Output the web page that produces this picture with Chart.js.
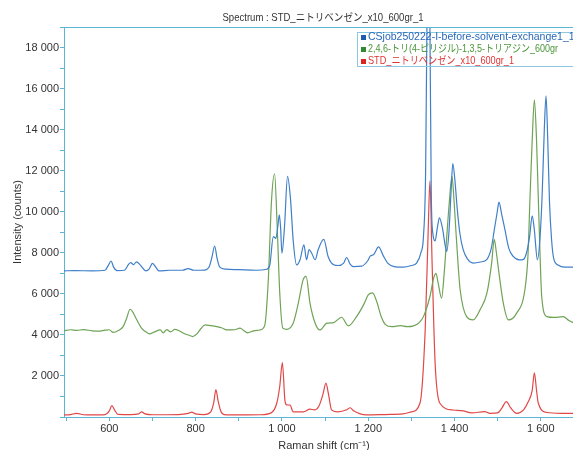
<!DOCTYPE html>
<html>
<head>
<meta charset="utf-8">
<title>Spectrum</title>
<script src="https://cdn.jsdelivr.net/npm/chart.js"></script>
<style>
  html, body { margin: 0; padding: 0; background: #fff; overflow: hidden; }
  #wrap { width: 590px; height: 450px; }
</style>
</head>
<body>
<div id="wrap"><canvas id="myChart" width="590" height="450"></canvas></div>
<script>
// --- data ---
const chartTitle = 'Spectrum : STD_ニトリベンゼン_x10_600gr_1';
const seriesNames = [
  'CSjob250222-I-before-solvent-exchange1_1',
  '2,4,6-トリ(4-ピリジル)-1,3,5-トリアジン_600gr',
  'STD_ニトリベンゼン_x10_600gr_1'
];

const xTicks = [500, 600, 700, 800, 900, 1000, 1100, 1200, 1300, 1400, 1500, 1600, 1700];
const xLabelled = [600, 800, 1000, 1200, 1400, 1600];
const yLabelled = [2000, 4000, 6000, 8000, 10000, 12000, 14000, 16000, 18000];

const blueX = [495, 520, 560, 590, 598, 604, 610, 618, 635, 645, 650, 656, 663, 672, 685, 692, 700, 706, 715, 740, 770, 783, 795, 820, 832, 838, 844, 850, 856, 870, 900, 940,
  965, 972, 980, 986, 990, 994, 997, 1000, 1006, 1013, 1020, 1026, 1034, 1042, 1051, 1057, 1063, 1069, 1077, 1084, 1097, 1107, 1115, 1130, 1143, 1150, 1158, 1166, 1185,
  1200, 1205, 1212, 1224, 1235, 1245, 1260, 1280, 1300, 1312, 1322, 1328, 1333, 1336, 1339.5, 1343, 1346, 1350, 1355, 1360, 1365, 1372, 1378, 1382, 1387, 1392, 1396,
  1401, 1406, 1412, 1420, 1430, 1443, 1460, 1475, 1485, 1492, 1499, 1503, 1509, 1517, 1526, 1536, 1550, 1560, 1568, 1574, 1580, 1585, 1592, 1598, 1603, 1608, 1612,
  1616, 1620, 1625, 1630, 1640, 1655, 1675, 1700];
const blueY = [7120, 7130, 7120, 7150, 7400, 7600, 7300, 7130, 7150, 7450, 7520, 7420, 7560, 7400, 7120, 7200, 7480, 7350, 7120, 7150, 7150, 7230, 7150, 7160, 7350, 7800, 8330, 7700, 7300, 7200, 7180, 7150,
  7200, 7410, 8790, 8700, 9200, 9850, 9200, 7980, 9280, 11720, 10590, 8630, 7410, 7660, 8390, 7660, 8150, 7980, 7660, 8150, 8650, 7820, 7500, 7380, 7500, 7770, 7450, 7330, 7350,
  7650, 7850, 7900, 8290, 7850, 7500, 7330, 7300, 7380, 7500, 8000, 8800, 12000, 19000, 24000, 19000, 11000, 8900, 8580, 9200, 9700, 9200, 8400, 8070, 9000, 11000, 12350,
  11500, 10200, 9000, 8150, 7700, 7500, 7550, 7680, 8200, 9100, 10000, 10470, 9900, 9100, 8200, 7820, 7650, 7680, 8100, 8800, 9800, 9100, 7660, 8700, 10800, 14000, 15650,
  13500, 10500, 8600, 7700, 7400, 7300, 7300, 7320];

const greenX = [495, 510, 525, 540, 560, 575, 590, 600, 609, 620, 632, 640, 648, 655, 662, 675, 685, 693, 705, 718, 725, 733, 742, 752, 762, 772, 785, 793, 803, 812, 822, 835,
  849, 860, 872, 890, 903, 912, 920, 935, 949, 960, 968, 976, 983, 989, 995, 1002, 1011, 1026, 1038, 1049, 1056, 1065, 1077, 1088, 1104, 1120, 1138, 1154, 1173, 1190,
  1200, 1210, 1220, 1230, 1240, 1255, 1275, 1290, 1305, 1318, 1328, 1343, 1352, 1357, 1362, 1370, 1376, 1382, 1388, 1394, 1399, 1403, 1408, 1413, 1428, 1443, 1459,
  1475, 1486, 1492, 1497, 1502, 1513, 1525, 1544, 1563, 1570, 1575, 1580, 1585, 1590, 1594, 1598, 1602, 1614, 1630, 1652, 1665, 1680, 1700];
const greenY = [4200, 4250, 4220, 4260, 4200, 4180, 4230, 4250, 4120, 4200, 4400, 4800, 5250, 5100, 4800, 4320, 4150, 4050, 4150, 4240, 4100, 4260, 4150, 4270, 4200, 4080, 3980, 3920, 4050, 4300, 4490, 4450,
  4400, 4350, 4240, 4250, 4330, 4200, 4100, 4200, 4240, 4450, 6500, 10590, 11850, 9280, 6030, 4330, 4270, 4570, 5550, 6680, 6850, 5550, 4570, 4240, 4570, 4600, 4860, 4440, 4890, 5500,
  5950, 6050, 5600, 4900, 4500, 4400, 4450, 4400, 4440, 4600, 4890, 5870, 6800, 7000, 6530, 5790, 7000, 8800, 10500, 11720, 10500, 9120, 7500, 6200, 4890, 4730, 5220,
  6030, 7500, 8650, 8000, 7170, 5550, 4730, 5060, 6200, 7800, 10750, 13500, 15450, 13500, 10750, 8000, 5870, 4890, 4850, 4890, 4700, 4570, 4550];

const redX = [495, 510, 524, 540, 560, 590, 600, 606, 612, 620, 650, 668, 675, 683, 700, 760, 783, 791, 800, 820, 835, 842, 847, 852, 858, 866, 900, 950, 975, 988, 995,
  1001, 1007, 1011, 1019, 1026, 1050, 1065, 1075, 1085, 1095, 1102, 1108, 1115, 1130, 1150, 1158, 1166, 1196, 1240, 1280, 1300, 1320, 1332, 1339, 1343, 1348, 1355,
  1366, 1397, 1420, 1440, 1470, 1482, 1500, 1510, 1520, 1530, 1544, 1560, 1571, 1580, 1585, 1590, 1594, 1614, 1650, 1700];
const redY = [100, 120, 180, 110, 100, 120, 300, 550, 350, 130, 120, 150, 250, 150, 110, 120, 180, 240, 150, 120, 250, 700, 1330, 800, 300, 120, 100, 110, 200, 670, 1500,
  2650, 800, 590, 580, 250, 250, 380, 350, 500, 1100, 1650, 1100, 350, 250, 350, 450, 300, 100, 120, 150, 250, 680, 4240, 9120, 11500, 7500, 2620,
  670, 340, 300, 200, 260, 180, 200, 450, 750, 450, 180, 350, 750, 1300, 2150, 1300, 680, 220, 180, 170];

const lineColors = ['#3f7fc8', '#6ea356', '#e04848'];
const legendMarks = ['#1f5cb0', '#2f8a2f', '#e02222'];
const legendText = ['#2a68b8', '#4a963a', '#e03434'];
const legendFit = [null, 190, 146];   // the source font sets the Japanese rows narrower

const xMin = 495, xMax = 1700, yMin = 0, yMax = 19000;
const axisColor = '#5cb4d6';
const fontFam = '"Liberation Sans", Arial, "Noto Sans CJK JP", sans-serif';

function pairs(xs, ys) {
  return xs.map((x, i) => ({ x: x, y: ys[i] }));
}
function spaced(v) {
  return String(v).replace(/\B(?=(\d{3})+(?!\d))/g, ' ');
}

// title, top frame line and in-plot legend
const decor = {
  id: 'decor',
  afterDraw(chart) {
    const { ctx, chartArea: a } = chart;
    ctx.save();
    ctx.strokeStyle = axisColor;
    ctx.lineWidth = 1;
    ctx.beginPath();
    ctx.moveTo(a.left, a.top + 0.5);
    ctx.lineTo(a.right, a.top + 0.5);
    ctx.lineTo(a.right, a.bottom);
    ctx.stroke();

    ctx.font = '10.5px ' + fontFam;
    ctx.fillStyle = '#333';
    ctx.textAlign = 'center';
    ctx.textBaseline = 'middle';
    ctx.fillText(chartTitle, (a.left + a.right) / 2 - 1, 18, 201);

    // legend box
    const lx = 357, ly = 32;
    ctx.strokeStyle = '#8cc8e0';
    ctx.strokeRect(lx + 0.5, ly + 0.5, 300, 34);
    ctx.textAlign = 'left';
    ctx.font = '10.5px ' + fontFam;
    seriesNames.forEach((name, i) => {
      const cy = ly + 5.5 + i * 12;
      ctx.fillStyle = legendMarks[i];
      ctx.fillRect(lx + 4, cy - 2.5, 5, 5);
      ctx.fillStyle = legendText[i];
      if (legendFit[i]) ctx.fillText(name, lx + 11, cy, legendFit[i]);
      else ctx.fillText(name, lx + 11, cy);
    });
    ctx.restore();
  }
};

const ctx = document.getElementById('myChart').getContext('2d');
new Chart(ctx, {
  type: 'line',
  data: {
    datasets: [
      { label: seriesNames[0], data: pairs(blueX, blueY), borderColor: lineColors[0] },
      { label: seriesNames[1], data: pairs(greenX, greenY), borderColor: lineColors[1] },
      { label: seriesNames[2], data: pairs(redX, redY), borderColor: lineColors[2] }
    ]
  },
  options: {
    responsive: false,
    animation: false,
    devicePixelRatio: 1,
    layout: { padding: { top: 27, left: 0, right: 6, bottom: 0 } },
    elements: {
      point: { radius: 0 },
      line: { borderWidth: 1.2, cubicInterpolationMode: 'monotone', fill: false }
    },
    plugins: {
      legend: { display: false },
      tooltip: { enabled: false },
      title: { display: false }
    },
    scales: {
      x: {
        type: 'linear',
        min: xMin, max: xMax,
        afterBuildTicks: s => { s.ticks = xTicks.map(v => ({ value: v })); },
        afterFit: s => { s.height = 33; },
        border: { color: axisColor, width: 1 },
        grid: { drawOnChartArea: false, tickLength: 4, tickColor: axisColor },
        ticks: {
          autoSkip: false, maxRotation: 0, padding: 1,
          color: '#333', font: { family: fontFam, size: 11 },
          callback: v => (xLabelled.includes(v) ? spaced(v) : '')
        },
        title: {
          display: true, text: 'Raman shift (cm⁻¹)', color: '#333',
          font: { family: fontFam, size: 11 }, padding: { top: 0, bottom: -3 }
        }
      },
      y: {
        type: 'linear',
        min: yMin, max: yMax,
        afterFit: s => { s.width = 64; },
        border: { color: axisColor, width: 1 },
        grid: { drawOnChartArea: false, tickLength: 4, tickColor: axisColor },
        ticks: {
          stepSize: 1000, autoSkip: false, padding: 1,
          color: '#333', font: { family: fontFam, size: 11 },
          callback: v => (yLabelled.includes(v) ? spaced(v) : '')
        },
        title: {
          display: true, text: 'Intensity (counts)', color: '#333',
          font: { family: fontFam, size: 11 }, padding: { top: 11, bottom: 0 }
        }
      }
    }
  },
  plugins: [decor]
});
</script>
</body>
</html>
